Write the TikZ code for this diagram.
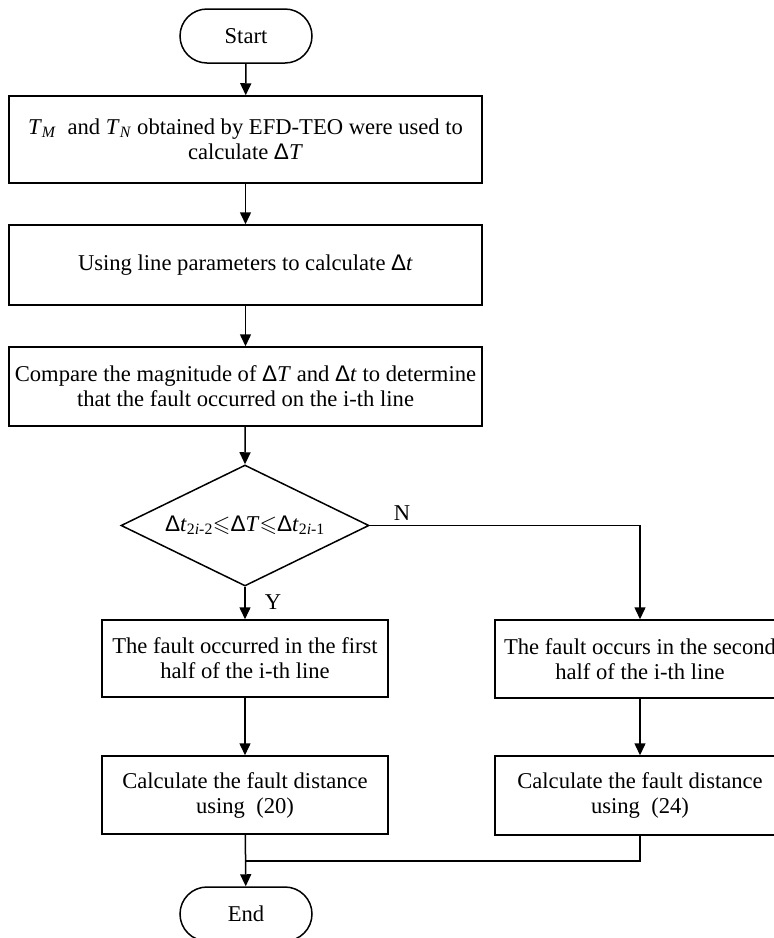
\documentclass[tikz,border=0pt]{standalone}
\usepackage{amssymb}
\usepackage{fontspec}
\setmainfont{Liberation Serif}
\newfontfamily\sansd{Liberation Sans}
\usetikzlibrary{shapes.geometric,arrows.meta}
\newcommand{\Dl}{{\sansd Δ}}
\begin{document}
\begin{tikzpicture}[x=1pt,y=-1pt,
  font=\fontsize{22.6}{25}\selectfont,
  every node/.style={align=center,inner sep=0pt},
  boxnode/.style={draw,line width=1.5pt,rectangle},
  termnode/.style={draw,line width=1.5pt,rectangle,rounded corners=27pt,minimum width=132pt,minimum height=54pt},
  decnode/.style={draw,line width=1.5pt,diamond,minimum width=248pt,minimum height=121pt},
  link/.style={line width=1.5pt,-{Triangle[length=12pt,width=11pt]}},
  plainlink/.style={line width=1.5pt}]
\useasboundingbox (0,0) rectangle (774,938);
\clip (0,0) rectangle (774,938);
\node[termnode] (start) at (246,36) {Start};
\node[boxnode,minimum width=473pt,minimum height=87pt] (b1) at (245.5,139.5)
  {\textit{T}\textsubscript{\textit{M}}~ and \textit{T}\textsubscript{\textit{N}} obtained by EFD-TEO were used to\\ calculate \Dl\textit{T}};
\node[boxnode,minimum width=473pt,minimum height=80pt] (b2) at (245.5,265)
  {Using line parameters to calculate \Dl\textit{t}};
\node[boxnode,minimum width=473pt,minimum height=79pt] (b3) at (245.5,386.5)
  {Compare the magnitude of \Dl\textit{T} and \Dl\textit{t} to determine\\ that the fault occurred on the i-th line};
\node[decnode] (d) at (245,525.5) {};
\node (dtext) at (245,525) {\Dl\textit{t}\textsubscript{2\textit{i}-2}$\leqslant$\Dl\textit{T}$\leqslant$\Dl\textit{t}\textsubscript{2\textit{i}-1}};
\node[boxnode,minimum width=286pt,minimum height=77pt] (b4) at (245,658.5)
  {The fault occurred in the first\\ half of the i-th line};
\node[boxnode,minimum width=286pt,minimum height=78pt] (b5) at (245,795)
  {Calculate the fault distance\\ using~ (20)};
\node[boxnode,minimum width=290pt,minimum height=78pt] (b6) at (640,659)
  {The fault occurs in the second\\ half of the i-th line};
\node[boxnode,minimum width=290pt,minimum height=79pt] (b7) at (640,795.5)
  {Calculate the fault distance\\ using~ (24)};
\node[termnode] (end) at (246,914) {End};
\node (ylab) at (273,602) {Y};
\node (nlab) at (402,513) {N};
\coordinate (ncorner) at (640,525.5);
\coordinate (merge) at (640,861);
\coordinate (mergeL) at (245,861);
\draw[link] (start) -- (b1);
\draw[link] (b1) -- (b2);
\draw[link] (b2) -- (b3);
\draw[link] (b3) -- (d.north);
\draw[link] (d.south) -- (b4);
\draw[link] (d.east) -- (ncorner) -- (b6.north);
\draw[link] (b4) -- (b5);
\draw[link] (b6) -- (b7);
\draw[link] (b5) -- (end);
\draw[plainlink] (b7.south) -- (merge) -- (mergeL);
\end{tikzpicture}
\end{document}
